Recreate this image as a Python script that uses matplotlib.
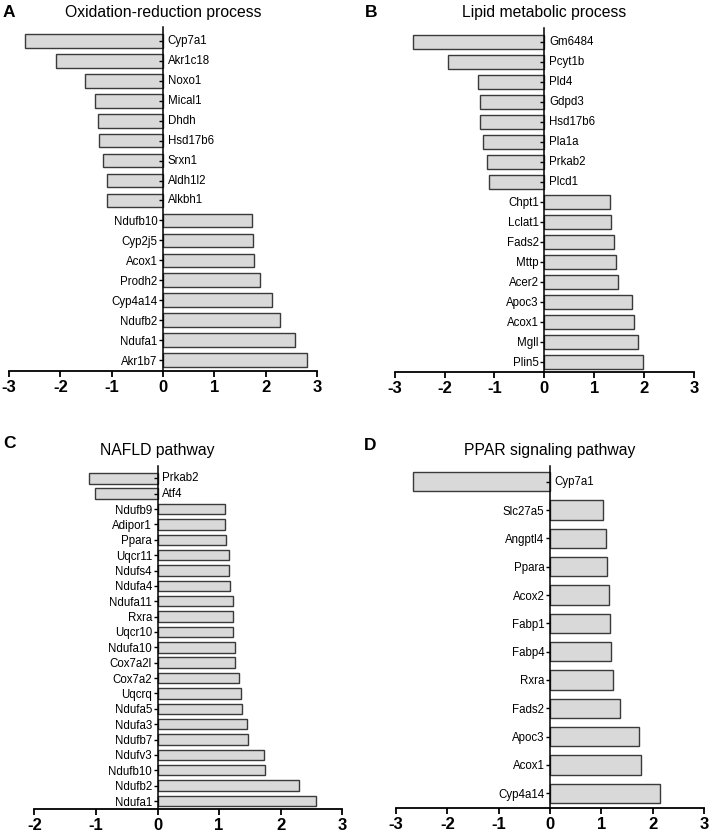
import matplotlib
matplotlib.use("Agg")
import matplotlib.pyplot as plt
import matplotlib.transforms as mtransforms

plt.rcParams['font.family'] = ['Liberation Sans', 'DejaVu Sans']

# A. Oxidation-reduction process
genes_a = ['Cyp7a1', 'Akr1c18', 'Noxo1', 'Mical1', 'Dhdh', 'Hsd17b6', 'Srxn1', 'Aldh1l2', 'Alkbh1',
           'Ndufb10', 'Cyp2j5', 'Acox1', 'Prodh2', 'Cyp4a14', 'Ndufb2', 'Ndufa1', 'Akr1b7']
vals_a = [-2.68, -2.09, -1.51, -1.33, -1.27, -1.25, -1.16, -1.10, -1.09,
          1.74, 1.75, 1.78, 1.89, 2.13, 2.28, 2.57, 2.80]

# B. Lipid metabolic process
genes_b = ['Gm6484', 'Pcyt1b', 'Pld4', 'Gdpd3', 'Hsd17b6', 'Pla1a', 'Prkab2', 'Plcd1',
           'Chpt1', 'Lclat1', 'Fads2', 'Mttp', 'Acer2', 'Apoc3', 'Acox1', 'Mgll', 'Plin5']
vals_b = [-2.63, -1.93, -1.34, -1.28, -1.28, -1.22, -1.14, -1.10,
          1.31, 1.34, 1.40, 1.44, 1.48, 1.75, 1.80, 1.88, 1.98]

# C. NAFLD pathway
genes_c = ['Prkab2', 'Atf4', 'Ndufb9', 'Adipor1', 'Ppara', 'Uqcr11', 'Ndufs4', 'Ndufa4', 'Ndufa11',
           'Rxra', 'Uqcr10', 'Ndufa10', 'Cox7a2l', 'Cox7a2', 'Uqcrq', 'Ndufa5', 'Ndufa3', 'Ndufb7',
           'Ndufv3', 'Ndufb10', 'Ndufb2', 'Ndufa1']
vals_c = [-1.12, -1.02, 1.09, 1.10, 1.12, 1.16, 1.16, 1.17, 1.22,
          1.23, 1.23, 1.25, 1.26, 1.33, 1.36, 1.37, 1.46, 1.47,
          1.73, 1.74, 2.29, 2.58]

# D. PPAR signaling pathway
genes_d = ['Cyp7a1', 'Slc27a5', 'Angptl4', 'Ppara', 'Acox2', 'Fabp1', 'Fabp4', 'Rxra', 'Fads2',
           'Apoc3', 'Acox1', 'Cyp4a14']
vals_d = [-2.66, 1.03, 1.10, 1.12, 1.14, 1.17, 1.18, 1.23, 1.37, 1.73, 1.78, 2.14]

W, H = 709, 832
fig = plt.figure(figsize=(W / 100, H / 100), dpi=100)


def px_axes(x0, x1, y0, y1):
    # pixel box (from top-left) -> figure axes
    return fig.add_axes([x0 / W, 1 - y1 / H, (x1 - x0) / W, (y1 - y0) / H])


def panel(ax, genes, vals, xmin, top_pad, bot_pad, title, letter, letter_xy, title_y):
    pos = list(range(len(genes)))
    ax.barh(pos, vals, height=0.68, color='#d9d9d9', edgecolor='#3a3a3a', linewidth=1.0)
    # spine first: moving it resets the ticks
    ax.spines['top'].set_visible(False)
    ax.spines['right'].set_visible(False)
    ax.spines['left'].set_position(('data', 0))
    ax.spines['left'].set_linewidth(1.1)
    ax.spines['bottom'].set_linewidth(1.3)
    ax.set_xlim(xmin, 3)
    ax.set_ylim(len(genes) - 1 + bot_pad, -top_pad)
    ax.set_xticks(range(xmin, 4))
    ax.set_xticklabels([str(t) for t in range(xmin, 4)], fontsize=12, fontweight='bold')
    ax.set_yticks(pos, labels=[g if v > 0 else '' for g, v in zip(genes, vals)])
    for g, v, p in zip(genes, vals, pos):
        if v < 0:
            ax.annotate(g, xy=(0, p), xytext=(3.3, 0), textcoords='offset points',
                        ha='left', va='center', fontsize=8.3)
    ax.tick_params(axis='x', direction='out', length=4, width=1.3, pad=2.5)
    ax.tick_params(axis='y', direction='out', length=3, width=1.0, pad=1, labelsize=8.3)
    tr = mtransforms.blended_transform_factory(ax.transData, fig.transFigure)
    ax.text(0, 1 - title_y / H, title, transform=tr, ha='center', va='baseline', fontsize=11.3)
    fig.text(letter_xy[0] / W, 1 - letter_xy[1] / H, letter, fontsize=12.5, fontweight='bold',
             ha='left', va='baseline')


ax_a = px_axes(9, 317, 27, 371)
panel(ax_a, genes_a, vals_a, -3, 0.70, 0.55, 'Oxidation-reduction process', 'A', (3, 17), 17.5)

ax_b = px_axes(394.7, 694, 28, 371.7)
panel(ax_b, genes_b, vals_b, -3, 0.685, 0.5, 'Lipid metabolic process', 'B', (364.5, 17), 17.5)

ax_c = px_axes(34.3, 342.3, 465.7, 809.3)
panel(ax_c, genes_c, vals_c, -2, 0.82, 0.54, 'NAFLD pathway', 'C', (3, 448.5), 455)

ax_d = px_axes(396, 704, 465.7, 808.3)
panel(ax_d, genes_d, vals_d, -3, 0.565, 0.53, 'PPAR signaling pathway', 'D', (364, 449.5), 455)

fig.savefig('out.png', dpi=100)
